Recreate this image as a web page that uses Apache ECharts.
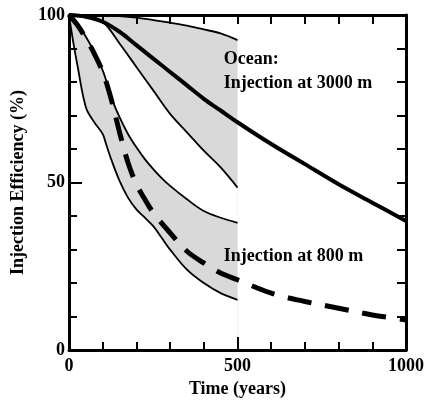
<!DOCTYPE html>
<html><head><meta charset="utf-8">
<script src="https://cdn.jsdelivr.net/npm/echarts@6/dist/echarts.min.js"></script>
<style>html,body{margin:0;padding:0;background:#fff}#c{width:427px;height:403px}</style>
</head><body><div id="c"></div>
<script>
// ---- data ----
// 3000 m band (0-500 yr)
const tA     = [0, 50, 100, 150, 200, 250, 300, 350, 400, 450, 500];
const upperA = [100, 100, 100, 99.7, 99.2, 98.5, 97.7, 96.8, 95.7, 94.5, 92.5];
const lowerA = [100, 99.7, 98, 91.5, 84.5, 77.5, 70.5, 65, 59.5, 54.5, 48.5];
// 800 m band (0-500 yr)
const tB     = [0, 10, 25, 50, 75, 100, 110, 125, 150, 175, 200, 225, 250, 275, 300, 350, 400, 450, 500];
const upperB = [100, 99.3, 97.5, 93.5, 89, 83.5, 80.5, 75.5, 69.5, 64.5, 60.5, 57, 54, 51.3, 49, 45, 41.5, 39.5, 38];
const lowerB = [100, 93.5, 85, 72.5, 68, 64.5, 61.5, 57, 50.5, 45.5, 42, 39.5, 37, 33.5, 30, 24, 20, 17, 15];
// central curves (0-1000 yr)
const tS    = [0, 50, 100, 150, 200, 250, 300, 350, 400, 450, 500, 600, 700, 800, 900, 1000];
const mid3000 = [100, 99.5, 98, 95, 91, 87, 83, 79, 75, 71.5, 68, 61.5, 55.5, 49.5, 44, 38.5];
const tD    = [0, 25, 50, 75, 100, 125, 150, 175, 200, 225, 250, 300, 350, 400, 450, 500, 600, 700, 800, 900, 1000];
const mid800 = [100, 97, 93, 88.5, 83, 75, 65, 56, 49.5, 45, 41, 35, 29.5, 26, 23, 21, 17, 14.5, 12.5, 10.5, 9];
// axis tick labels
const xTickLabels = [0, 500, 1000];
const yTickLabels = [0, 50, 100];
// annotations
const annoText = ['Ocean:', 'Injection at 3000 m', 'Injection at 800 m'];
const annoX = [459, 459, 459];
const annoY = [86.7, 79.6, 28];

const FONT = 'Liberation Serif';
const pairs = (t, v) => t.map((x, i) => [x, v[i]]);
const GRAY = '#d9d9d9';
const SM = 0.35;

const chart = echarts.init(document.getElementById('c'), null, {renderer: 'canvas'});
const lab = {fontFamily: FONT, fontWeight: 'bold', fontSize: 18, color: '#000'};
const lineBase = {type: 'line', smooth: SM, symbol: 'none', silent: true};
function fill(t, v, color, z) {
  return Object.assign({}, lineBase, {data: pairs(t, v), z: z,
    lineStyle: {width: 0, opacity: 0}, areaStyle: {color: color, opacity: 1, origin: 'start'}});
}
function line(t, v, w, z, type) {
  return Object.assign({}, lineBase, {data: pairs(t, v), z: z,
    lineStyle: {color: '#000', width: w, type: type || 'solid', cap: 'butt'}});
}
const axisCommon = {
  axisLine: {show: true, onZero: false, lineStyle: {color: '#000', width: 3}},
  splitLine: {show: false}, z: 10
};
const option = {
  animation: false,
  backgroundColor: '#fff',
  grid: {left: 69, right: 18, top: 15, bottom: 47, containLabel: false},
  xAxis: [
    Object.assign({type: 'value', min: 0, max: 1000, interval: 500, position: 'bottom',
     axisTick: {show: true, inside: true, length: 13, lineStyle: {color: '#000', width: 2}},
     minorTick: {show: true, splitNumber: 5, length: 8, lineStyle: {color: '#000', width: 2}},
     axisLabel: Object.assign({margin: 7, formatter: v => xTickLabels.includes(v) ? String(v) : ''}, lab),
     name: 'Time (years)', nameLocation: 'middle', nameGap: 29, nameTextStyle: lab}, axisCommon),
    Object.assign({type: 'value', min: 0, max: 1000, interval: 100, position: 'top',
     axisTick: {show: true, inside: true, length: 9, lineStyle: {color: '#000', width: 2}},
     axisLabel: {show: false}}, axisCommon)
  ],
  yAxis: [
    Object.assign({type: 'value', min: 0, max: 100, interval: 50, position: 'left',
     axisTick: {show: true, inside: true, length: 13, lineStyle: {color: '#000', width: 2}},
     minorTick: {show: true, splitNumber: 5, length: 8, lineStyle: {color: '#000', width: 2}},
     axisLabel: Object.assign({margin: 4, formatter: v => yTickLabels.includes(v) ? String(v) : ''}, lab),
     name: 'Injection Efficiency (%)', nameLocation: 'middle', nameGap: 32, nameTextStyle: lab}, axisCommon),
    Object.assign({type: 'value', min: 0, max: 100, interval: 10, position: 'right',
     axisTick: {show: true, inside: true, length: 9, lineStyle: {color: '#000', width: 2}},
     axisLabel: {show: false}}, axisCommon)
  ],
  series: [
    fill(tA, upperA, GRAY, 1),
    fill(tA, lowerA, '#fff', 1.1),
    fill(tB, upperB, GRAY, 1.2),
    fill(tB, lowerB, '#fff', 1.3),
    line(tA, upperA, 1.8, 2),
    line(tA, lowerA, 1.8, 2),
    line(tB, upperB, 1.8, 2),
    line(tB, lowerB, 1.8, 2),
    line(tS, mid3000, 4, 3),
    line(tD, mid800, 5, 3, [24, 14])
  ]
};
chart.setOption(option);
const g = annoText.map((s, i) => {
  const p = chart.convertToPixel({xAxisIndex: 0, yAxisIndex: 0}, [annoX[i], annoY[i]]);
  return {type: 'text', x: p[0], y: p[1], z: 10,
    style: {text: s, fontFamily: FONT, fontWeight: 'bold', fontSize: 18, fill: '#000', verticalAlign: 'middle', align: 'left'}};
});
chart.setOption({graphic: g});
</script></body></html>
